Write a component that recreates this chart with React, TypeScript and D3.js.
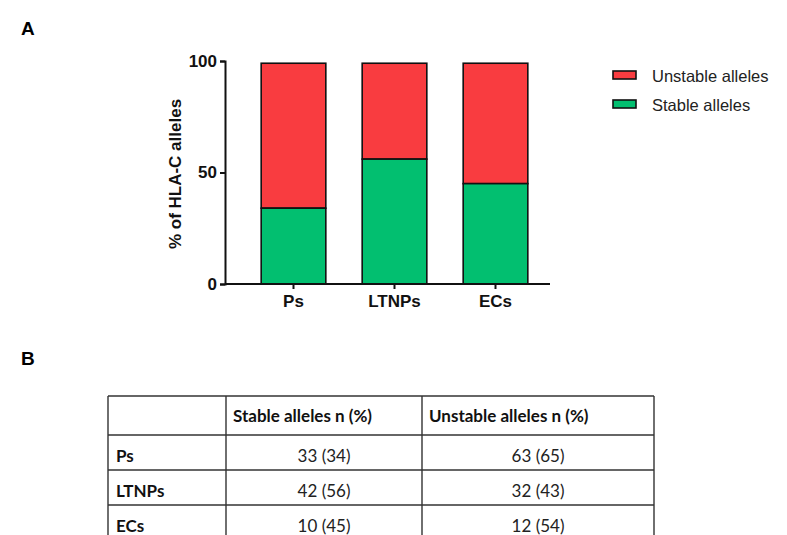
import React, { useEffect, useRef } from 'react';
import * as d3 from 'd3';

const groups = ['Ps', 'LTNPs', 'ECs'];
const stablePct = [34, 56, 45];
const unstablePct = [65, 43, 54];
const stableN = [33, 42, 10];
const unstableN = [63, 32, 12];
const seriesNames = ['Unstable alleles', 'Stable alleles'];
const yTicks = [0, 50, 100];
const tableHeader = ['', 'Stable alleles n (%)', 'Unstable alleles n (%)'];

const RED = '#f93c40';
const GREEN = '#02bf70';

const width = 787;
const height = 535;

const App: React.FC = () => {
	const svgRef = useRef<SVGSVGElement | null>(null);

	useEffect(() => {
		if (!svgRef.current) return;
		const svg = d3.select(svgRef.current);
		svg.selectAll('*').remove();

		const axisFont = 'Liberation Sans, Arial, sans-serif';

		// panel letters
		svg.append('text').attr('x', 21).attr('y', 35).attr('font-family', axisFont)
			.attr('font-weight', 'bold').attr('font-size', 19).text('A');
		svg.append('text').attr('x', 21).attr('y', 365).attr('font-family', axisFont)
			.attr('font-weight', 'bold').attr('font-size', 19).text('B');

		// scales
		const x = d3.scaleBand<string>().domain(groups).range([243, 546]).paddingInner(0.36).paddingOuter(0.18);
		const y = d3.scaleLinear().domain([0, 100]).range([284, 61]);

		const chart = svg.append('g');

		// bars: stable at bottom, unstable on top
		groups.forEach((g, i) => {
			const bx = x(g) ?? 0;
			chart.append('rect')
				.attr('x', bx).attr('width', x.bandwidth())
				.attr('y', y(stablePct[i] + unstablePct[i]))
				.attr('height', y(stablePct[i]) - y(stablePct[i] + unstablePct[i]))
				.attr('fill', RED).attr('stroke', '#111').attr('stroke-width', 1.6);
			chart.append('rect')
				.attr('x', bx).attr('width', x.bandwidth())
				.attr('y', y(stablePct[i]))
				.attr('height', y(0) - y(stablePct[i]))
				.attr('fill', GREEN).attr('stroke', '#111').attr('stroke-width', 1.6);
		});

		// y axis
		chart.append('g')
			.attr('transform', 'translate(225,0)')
			.call(d3.axisLeft(y).tickValues(yTicks).tickSize(5).tickPadding(3))
			.call(g => g.select('.domain').attr('stroke-width', 2).attr('stroke', '#111'))
			.call(g => g.selectAll('.tick line').attr('stroke-width', 2).attr('stroke', '#111'))
			.call(g => g.selectAll('.tick text').attr('font-family', axisFont).attr('font-weight', 'bold')
				.attr('font-size', 17).attr('fill', '#111'));

		// x axis
		chart.append('g')
			.attr('transform', 'translate(0,284)')
			.call(d3.axisBottom(x).tickSize(5).tickSizeOuter(0).tickPadding(6))
			.call(g => g.select('.domain').attr('stroke-width', 2).attr('stroke', '#111').attr('d', 'M225,0H550'))
			.call(g => g.selectAll('.tick line').attr('stroke-width', 2).attr('stroke', '#111'))
			.call(g => g.selectAll('.tick text').attr('font-family', axisFont).attr('font-weight', 'bold')
				.attr('font-size', 17).attr('fill', '#111'));

		// y label
		svg.append('text')
			.attr('transform', 'translate(181,174) rotate(-90)')
			.attr('text-anchor', 'middle')
			.attr('font-family', axisFont).attr('font-weight', 'bold').attr('font-size', 17)
			.attr('fill', '#111')
			.text('% of HLA-C alleles');

		// legend
		const legendColors = [RED, GREEN];
		seriesNames.forEach((name, i) => {
			const ly = 74 + i * 29;
			svg.append('rect').attr('x', 613).attr('y', ly - 3).attr('width', 23).attr('height', 8)
				.attr('fill', legendColors[i]).attr('stroke', '#111').attr('stroke-width', 1.6);
			svg.append('text').attr('x', 652).attr('y', ly + 8)
				.attr('font-family', axisFont).attr('font-size', 16.5).attr('fill', '#222')
				.text(name);
		});

		// table
		const tableFont = 'Lato, Open Sans, sans-serif';
		const fs = 17;
		const colX = [108, 226, 422, 654];
		const rowY = [396, 435, 470, 505, 540];
		const tbl = svg.append('g');
		rowY.forEach(ry => {
			tbl.append('line').attr('x1', colX[0]).attr('x2', colX[3]).attr('y1', ry).attr('y2', ry)
				.attr('stroke', '#333').attr('stroke-width', 1.4);
		});
		colX.forEach(cx => {
			tbl.append('line').attr('x1', cx).attr('x2', cx).attr('y1', rowY[0]).attr('y2', rowY[4])
				.attr('stroke', '#333').attr('stroke-width', 1.4);
		});
		tableHeader.forEach((h, c) => {
			if (!h) return;
			tbl.append('text').attr('x', colX[c] + 7).attr('y', 422)
				.attr('font-family', tableFont).attr('font-weight', 'bold').attr('font-size', fs)
				.attr('fill', '#111').text(h);
		});
		groups.forEach((g, r) => {
			const by = rowY[r + 1] + 27;
			tbl.append('text').attr('x', colX[0] + 8).attr('y', by)
				.attr('font-family', tableFont).attr('font-weight', 'bold').attr('font-size', fs)
				.attr('fill', '#111').text(g);
			tbl.append('text').attr('x', (colX[1] + colX[2]) / 2).attr('y', by).attr('text-anchor', 'middle')
				.attr('font-family', tableFont).attr('font-size', fs).attr('fill', '#222')
				.text(`${stableN[r]} (${stablePct[r]})`);
			tbl.append('text').attr('x', (colX[2] + colX[3]) / 2).attr('y', by).attr('text-anchor', 'middle')
				.attr('font-family', tableFont).attr('font-size', fs).attr('fill', '#222')
				.text(`${unstableN[r]} (${unstablePct[r]})`);
		});
	}, []);

	return (
		<svg ref={svgRef} width={width} height={height}
			style={{ position: 'absolute', left: 0, top: 0, background: '#fff' }} />
	);
};

export default App;
